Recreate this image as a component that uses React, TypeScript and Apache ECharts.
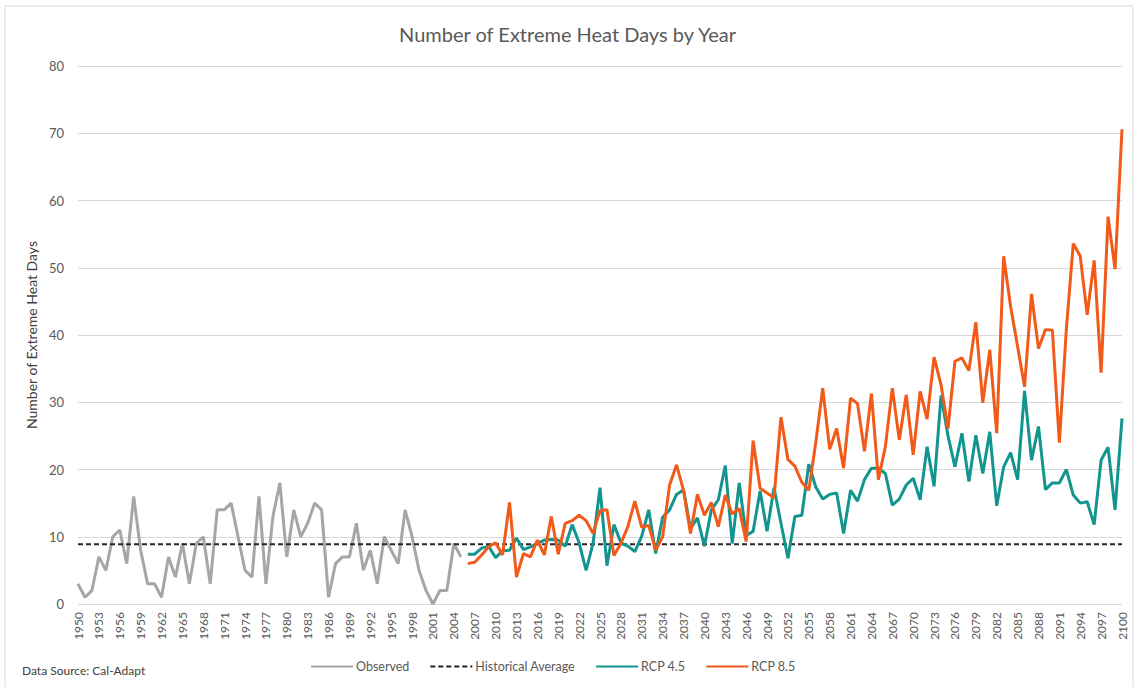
import React, { useEffect, useRef } from "react";
import * as echarts from "echarts";

const startYear = 1950;
const endYear = 2100;
const years: string[] = [];
for (let y = startYear; y <= endYear; y++) years.push(String(y));

// 1950-2005
const observed = [
  3, 1, 2, 7, 5, 10, 11, 6, 16, 8,
  3, 3, 1, 7, 4, 9, 3, 9, 10, 3,
  14, 14, 15, 10, 5, 4, 16, 3, 13, 18,
  7, 14, 10, 12, 15, 14, 1, 6, 7, 7,
  12, 5, 8, 3, 10, 8, 6, 14, 10, 5,
  2, 0, 2, 2, 9, 7,
];

// 2006-2100
const rcp45 = [
  7.4, 7.4, 8.3, 8.6,
  6.9, 7.9, 8.0, 9.8, 8.1, 8.5, 9.0, 9.5, 9.6, 9.5,
  8.6, 11.8, 9.1, 5.0, 9.0, 17.3, 5.7, 11.8, 9.1, 8.6,
  7.8, 10.1, 14.0, 7.5, 12.9, 14.0, 16.3, 17.0, 11.2, 12.8,
  8.6, 14.0, 15.5, 20.6, 9.0, 18.0, 10.2, 10.8, 16.8, 10.8,
  17.3, 12.0, 6.8, 13.0, 13.2, 20.8, 17.4, 15.6, 16.3, 16.5,
  10.5, 16.9, 15.3, 18.5, 20.2, 20.2, 19.4, 14.7, 15.6, 17.7,
  18.7, 15.5, 23.4, 17.5, 31.0, 25.0, 20.4, 25.4, 18.2, 25.1,
  19.4, 25.6, 14.6, 20.4, 22.5, 18.5, 31.7, 21.4, 26.4, 17.0,
  18.0, 18.0, 20.0, 16.2, 15.0, 15.2, 11.8, 21.4, 23.3, 14.0,
  27.6,
];

// 2006-2100
const rcp85 = [
  6.0, 6.2, 7.3, 8.5,
  9.1, 7.3, 15.1, 4.0, 7.5, 7.0, 9.5, 7.3, 13.0, 7.4,
  12.0, 12.4, 13.2, 12.4, 10.5, 13.9, 14.0, 7.2, 9.0, 11.5,
  15.3, 11.4, 11.7, 8.0, 10.0, 17.7, 20.7, 16.9, 10.5, 16.3,
  13.2, 15.1, 11.5, 16.2, 13.4, 14.2, 9.3, 24.3, 17.2, 16.5,
  15.8, 27.8, 21.5, 20.5, 18.1, 16.9, 24.0, 32.1, 23.0, 26.1,
  20.2, 30.6, 29.8, 22.7, 31.3, 18.5, 23.4, 32.1, 24.4, 31.1,
  22.2, 31.6, 27.5, 36.7, 32.6, 26.1, 36.1, 36.6, 34.7, 41.9,
  29.9, 37.8, 25.4, 51.7, 44.2, 38.3, 32.3, 46.1, 38.0, 40.8,
  40.7, 24.0, 40.8, 53.6, 51.7, 43.0, 51.1, 34.4, 57.6, 49.8,
  70.6,
];

const historicalAverage = 8.9;

const FONT = "Lato, 'Noto Sans', sans-serif";

export default function App() {
  const ref = useRef<HTMLDivElement>(null);

  useEffect(() => {
    if (!ref.current) return;
    const chart = echarts.init(ref.current, undefined, { renderer: "svg" });

    const n = years.length;
    const obsData: (number | null)[] = years.map((_, i) => (i < observed.length ? observed[i] : null));
    const offset = n - rcp45.length;
    const r45Data: (number | null)[] = years.map((_, i) => (i >= offset ? rcp45[i - offset] : null));
    const r85Data: (number | null)[] = years.map((_, i) => (i >= offset ? rcp85[i - offset] : null));
    const avgData = years.map(() => historicalAverage);

    chart.setOption({
      animation: false,
      backgroundColor: "#ffffff",
      textStyle: { fontFamily: FONT },
      title: {
        text: "Number of Extreme Heat Days by Year",
        left: "center",
        top: 19,
        textStyle: { fontSize: 20, fontWeight: "normal", color: "#595959", fontFamily: FONT },
      },
      grid: { left: 78, right: 13, top: 66, bottom: 83, containLabel: false },
      legend: {
        left: 305,
        top: 655,
        itemWidth: 42,
        itemHeight: 12,
        itemGap: 20,
        itemStyle: { color: "transparent", borderWidth: 0, opacity: 0 },
        textStyle: { fontSize: 12.5, color: "#595959", fontFamily: FONT, padding: [0, 0, 0, -2] },
        data: ["Observed", "Historical Average", "RCP 4.5", "RCP 8.5"],
      },
      xAxis: {
        type: "category",
        data: years,
        boundaryGap: false,
        axisLine: { show: true, lineStyle: { color: "#d9d9d9", width: 1 } },
        axisTick: { show: false },
        axisLabel: {
          rotate: 90,
          interval: 2,
          margin: 8,
          fontSize: 12,
          color: "#595959",
          fontFamily: FONT,
        },
      },
      yAxis: {
        type: "value",
        min: 0,
        max: 80,
        interval: 10,
        name: "Number of Extreme Heat Days",
        nameLocation: "middle",
        nameRotate: 90,
        nameGap: 33,
        nameTextStyle: { fontSize: 14, color: "#404040", fontFamily: FONT },
        axisLine: { show: false },
        axisTick: { show: false },
        axisLabel: { margin: 14, fontSize: 13, color: "#595959", fontFamily: FONT },
        splitLine: { lineStyle: { color: "#d9d9d9", width: 1 } },
      },
      series: [
        {
          name: "Observed",
          type: "line",
          data: obsData,
          symbol: "none",
          connectNulls: false,
          lineStyle: { color: "#a6a6a6", width: 3 },
          itemStyle: { color: "#a6a6a6" },
        },
        {
          name: "Historical Average",
          type: "line",
          data: avgData,
          symbol: "none",
          lineStyle: { color: "#262626", width: 2, type: [5, 3] },
          itemStyle: { color: "#262626" },
        },
        {
          name: "RCP 4.5",
          type: "line",
          data: r45Data,
          symbol: "none",
          lineStyle: { color: "#12958f", width: 3 },
          itemStyle: { color: "#12958f" },
        },
        {
          name: "RCP 8.5",
          type: "line",
          data: r85Data,
          symbol: "none",
          lineStyle: { color: "#f15a18", width: 3 },
          itemStyle: { color: "#f15a18" },
        },
      ],
      graphic: [
        {
          type: "rect",
          shape: { x: 5, y: 6, width: 1128, height: 700 },
          style: { fill: "none", stroke: "#d9d9d9", lineWidth: 1 },
          silent: true,
        },
        {
          type: "text",
          left: 22,
          top: 664,
          style: {
            text: "Data Source: Cal-Adapt",
            fontSize: 12,
            fill: "#404040",
            fontFamily: FONT,
          },
        },
      ],
    });

    return () => chart.dispose();
  }, []);

  return (
    <div
      ref={ref}
      style={{ position: "absolute", left: 0, top: 0, width: 1135, height: 687 }}
    />
  );
}
